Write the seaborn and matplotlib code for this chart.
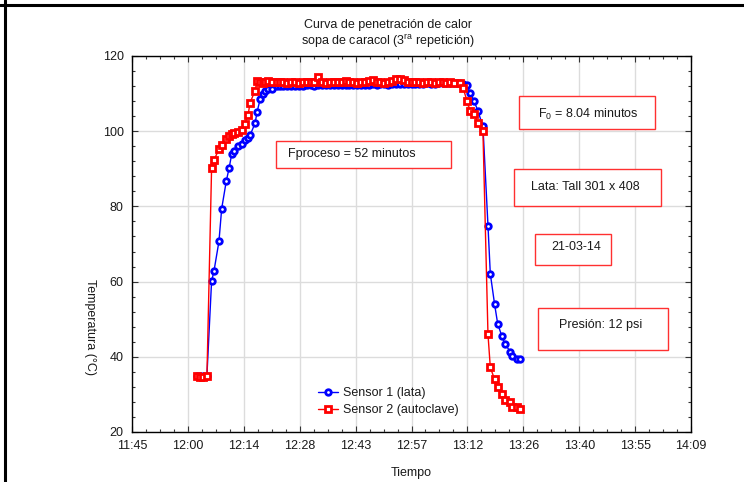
import matplotlib
matplotlib.use("Agg")
import matplotlib.pyplot as plt
import seaborn as sns
import pandas as pd
from matplotlib.lines import Line2D
from matplotlib.patches import Rectangle
from matplotlib.ticker import AutoMinorLocator

# ---------------- data (minutes after 11:45) ----------------
time_rise = [16.7, 17.5, 18.3, 19.3, 20.5, 21.1, 22.4, 23.1, 24.3, 25.0, 25.7, 26.3,
             27.3, 28.3, 29.0, 29.9, 30.4, 31.7, 32.2, 33.0, 33.7, 34.3, 35.1, 36.0, 37.3]
time_plateau = [38, 39, 40, 41, 42, 43, 44, 45, 46, 47, 48, 49, 50, 51, 52, 53, 54, 55,
                56, 57, 58, 59, 60, 61, 62, 63, 64, 65, 66, 67, 68, 69, 70, 71, 72, 73,
                74, 75, 76, 77, 78, 79, 80, 81, 82, 83]
time_fall = [84.5, 85.3, 86.3, 87.1, 88.1, 89.1, 90.4, 91.7, 92.3, 93.4, 94.2, 95.3,
             96.1, 97.4, 97.9, 99.2, 99.9]

sensor1_rise = [34.8, 34.8, 34.9, 35.0, 60.1, 62.7, 70.7, 79.4, 86.8, 90.1, 94.0, 94.7,
                96.1, 96.5, 97.7, 98.3, 98.9, 102.1, 105.0, 108.5, 109.9, 110.6, 111.1, 111.2, 111.9]
sensor1_plateau = [112.0, 112.0, 112.1, 112.0, 112.1, 112.1, 112.0, 112.2,
                   112.2, 112.1, 112.3, 112.2, 112.2, 112.3, 112.2, 112.3, 112.4, 112.3,
                   112.3, 112.4, 112.3, 112.4, 112.4,
                   112.4, 112.5, 112.4, 112.5, 112.5, 112.4, 112.6, 112.5, 112.5, 112.6,
                   112.5, 112.6, 112.6, 112.5, 112.6, 112.7, 112.6, 112.6, 112.7, 112.7,
                   112.8, 112.7, 112.8]
sensor1_fall = [112.8, 112.6, 112.4, 110.1, 108.1, 105.4, 101.3, 74.9, 62.1, 54.0, 48.8,
                45.4, 43.4, 41.4, 40.1, 39.5, 39.4]

sensor2_rise = [34.8, 34.7, 34.7, 34.8, 90.1, 92.3, 95.2, 96.3, 98.0, 98.7, 99.2, 99.5,
                99.8, 100.4, 101.8, 104.3, 107.5, 110.8, 113.3, 113.0, 112.8, 113.2, 113.4, 113.0, 113.1]
sensor2_plateau = [113.0, 113.2, 112.8, 113.1, 113.0, 112.9, 113.2, 113.0, 113.1, 113.0, 114.3,
                   113.0, 112.9, 113.1, 113.0, 113.2, 113.0, 113.4, 113.1, 113.0, 112.9,
                   113.2, 113.0, 113.3, 113.5, 113.2, 113.0, 112.9, 113.1, 113.4, 113.8,
                   114.0, 113.5, 113.2, 113.0, 113.1, 113.0, 112.9, 113.2, 113.0, 112.9,
                   113.1, 113.0, 112.8, 113.0, 112.9]
sensor2_fall = [112.8, 111.4, 108.1, 105.4, 104.5, 102.3, 100.1, 46.0, 37.2, 34.0, 32.1,
                30.1, 28.5, 28.0, 26.7, 26.7, 26.0]

xtick_pos = [0, 14.4, 28.8, 43.2, 57.6, 72.0, 86.4, 100.8, 115.2, 129.6, 144.0]
xtick_labels = ["11:45", "12:00", "12:14", "12:28", "12:43", "12:57", "13:12",
                "13:26", "13:40", "13:55", "14:09"]
ytick_pos = [20, 40, 60, 80, 100, 120]

label1 = "Sensor 1 (lata)"
label2 = "Sensor 2 (autoclave)"

# ---------------- figure ----------------
sns.set_theme(style="white")
plt.rcParams['font.family'] = ['Liberation Sans', 'DejaVu Sans']
plt.rcParams['mathtext.fontset'] = 'custom'
plt.rcParams['mathtext.rm'] = 'Liberation Sans'
plt.rcParams['mathtext.it'] = 'Liberation Sans:italic'

W, H = 744, 482
fig = plt.figure(figsize=(W / 100, H / 100), dpi=100)
fig.patch.set_facecolor('white')
L, R, T, B = 132, 691, 56, 432
ax = fig.add_axes([L / W, 1 - B / H, (R - L) / W, (B - T) / H])
ax.set_facecolor('white')

df = pd.DataFrame({
    "t": time_rise + time_plateau + time_fall,
    "s1": sensor1_rise + sensor1_plateau + sensor1_fall,
    "s2": sensor2_rise + sensor2_plateau + sensor2_fall,
})

sns.lineplot(data=df, x="t", y="s1", ax=ax, sort=False, estimator=None,
             color="#0000ff", marker="o", markersize=4.0, markerfacecolor="white",
             markeredgecolor="#0000ff", markeredgewidth=2.0, linewidth=1.0,
             label=label1, zorder=3)
sns.lineplot(data=df, x="t", y="s2", ax=ax, sort=False, estimator=None,
             color="#ff0000", marker="s", markersize=3.8, markerfacecolor="white",
             markeredgecolor="#ff0000", markeredgewidth=2.0, linewidth=1.0,
             label=label2, zorder=4)

ax.set_xlim(0, 144)
ax.set_ylim(20, 120)
ax.set_xticks(xtick_pos)
ax.set_xticklabels(xtick_labels)
ax.set_yticks(ytick_pos)
ax.xaxis.set_minor_locator(AutoMinorLocator(4))
ax.yaxis.set_minor_locator(AutoMinorLocator(5))
ax.tick_params(which='both', direction='in', top=True, right=True, left=True, bottom=True,
               color='#333333', labelsize=9, labelcolor='#1a1a1a')
ax.tick_params(which='major', length=4, width=0.8, pad=6)
ax.tick_params(which='minor', length=2.5, width=0.8)
ax.grid(True, which='major', color='#dcdcdc', linewidth=1.0)
ax.set_axisbelow(True)
for sp in ax.spines.values():
    sp.set_color('black')
    sp.set_linewidth(1.0)
ax.set_xlabel("")
ax.set_ylabel("")

leg = ax.legend(loc='upper left', bbox_to_anchor=((318 - L) / (R - L), (B - 387) / (B - T)),
                frameon=False, fontsize=9, handlelength=1.6, handletextpad=0.4,
                labelspacing=0.4, borderaxespad=0, borderpad=0)
for txt in leg.get_texts():
    txt.set_color('#1a1a1a')

# ---------------- annotation boxes (pixel geometry) ----------------
def fx(px):
    return (px - L) / (R - L)

def fy(py):
    return (B - py) / (B - T)

boxes = [
    ((276, 141, 451, 168), (352, 154.5), "Fproceso = 52 minutos"),
    ((519, 96, 655, 129), (588, 114), "F$_{\\mathrm{0}}$ = 8.04 minutos"),
    ((514, 169, 661, 206), (585, 187), "Lata: Tall 301 x 408"),
    ((535, 234, 611, 265), (576, 247.5), "21-03-14"),
    ((538, 308, 668, 350), (601, 325), "Presión: 12 psi"),
]
for (x0, y0, x1, y1), (tx, ty), s in boxes:
    ax.add_patch(Rectangle((fx(x0), fy(y1)), fx(x1) - fx(x0), fy(y0) - fy(y1),
                           transform=ax.transAxes, facecolor='white', edgecolor='#ff3030',
                           linewidth=1.0, zorder=5))
    ax.text(fx(tx), fy(ty), s, transform=ax.transAxes, ha='center', va='center',
            fontsize=9, color='#1a1a1a', zorder=6)

# ---------------- titles / labels ----------------
fig.text(388 / W, 1 - 25 / H, "Curva de penetración de calor", ha='center', va='center',
         fontsize=9, color='#1a1a1a')
fig.text(388 / W, 1 - 41.5 / H, "sopa de caracol (3$^{\\mathrm{ra}}$ repetición)", ha='center',
         va='center', fontsize=9, color='#1a1a1a')
fig.text(411 / W, 1 - 473 / H, "Tiempo", ha='center', va='center', fontsize=9, color='#1a1a1a')
fig.text(90 / W, 1 - 327 / H, "Temperatura (°C)", ha='center', va='center', rotation=270,
         fontsize=9, color='#1a1a1a')

# figure border (top and left)
fig.add_artist(Line2D([0, 1], [1 - 4.5 / H, 1 - 4.5 / H], transform=fig.transFigure,
                      color='black', linewidth=2.2))
fig.add_artist(Line2D([5 / W, 5 / W], [0, 1], transform=fig.transFigure,
                      color='black', linewidth=2.2))

fig.savefig("out.png", dpi=100, facecolor='white')
